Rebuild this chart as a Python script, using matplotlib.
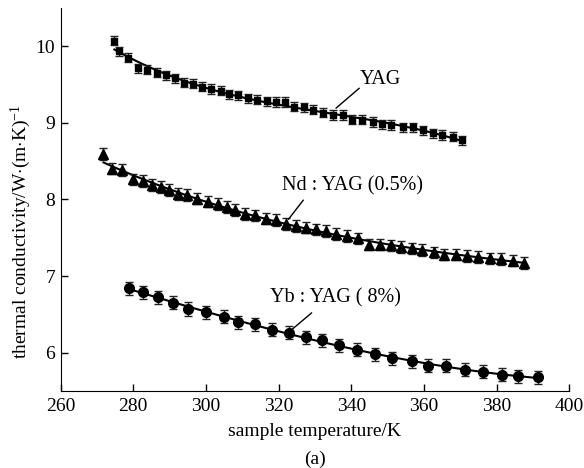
import numpy as np
import matplotlib
matplotlib.use("Agg")
import matplotlib.pyplot as plt

plt.rcParams['font.family'] = ['Liberation Serif', 'DejaVu Serif']
plt.rcParams['mathtext.fontset'] = 'custom'
plt.rcParams['mathtext.rm'] = 'Liberation Serif'
plt.rcParams['mathtext.it'] = 'Liberation Serif:italic'

# sample data
yag_t = [274.8, 276.2, 278.6, 281.4, 283.9, 286.4, 288.9, 291.5, 294.0, 296.4,
         298.8, 301.4, 304.1, 306.3, 308.9, 311.5, 314.0, 316.7, 319.2, 321.8,
         324.2, 327.0, 329.5, 332.3, 335.0, 337.6, 340.1, 342.9, 345.9, 348.4,
         350.9, 354.3, 356.9, 359.8, 362.6, 365.1, 367.9, 370.6]
yag_k = [10.07, 9.93, 9.85, 9.71, 9.69, 9.65, 9.62, 9.58, 9.52, 9.51,
         9.47, 9.44, 9.42, 9.37, 9.36, 9.32, 9.30, 9.28, 9.27, 9.27,
         9.21, 9.20, 9.17, 9.13, 9.10, 9.10, 9.04, 9.04, 9.01, 8.98,
         8.97, 8.94, 8.94, 8.90, 8.86, 8.84, 8.82, 8.77]

nd_t = [271.8, 274.1, 276.8, 280.0, 282.6, 285.1, 287.6, 289.8, 292.2, 294.7,
        297.5, 300.6, 303.2, 305.7, 308.0, 310.7, 313.4, 316.4, 319.2, 322.0,
        324.8, 327.5, 330.3, 333.0, 335.9, 338.8, 341.9, 345.0, 347.9, 350.9,
        353.8, 356.6, 359.6, 362.8, 365.6, 368.8, 371.9, 374.9, 378.2, 381.3,
        384.4, 387.6]
nd_k = [8.59, 8.40, 8.38, 8.26, 8.24, 8.19, 8.16, 8.12, 8.07, 8.06,
        8.01, 7.97, 7.94, 7.90, 7.86, 7.81, 7.79, 7.75, 7.73, 7.68,
        7.65, 7.63, 7.61, 7.59, 7.55, 7.52, 7.49, 7.41, 7.41, 7.40,
        7.38, 7.36, 7.34, 7.31, 7.28, 7.28, 7.26, 7.25, 7.23, 7.22,
        7.20, 7.17]

yb_t = [278.7, 282.8, 286.7, 290.8, 295.1, 300.0, 304.9, 308.9, 313.4, 318.1,
        322.9, 327.5, 332.0, 336.5, 341.5, 346.4, 351.1, 356.8, 361.2, 366.2,
        371.3, 376.3, 381.4, 385.9, 391.5]
yb_k = [6.84, 6.79, 6.72, 6.65, 6.57, 6.53, 6.47, 6.40, 6.37, 6.30,
        6.26, 6.20, 6.16, 6.10, 6.04, 5.98, 5.93, 5.89, 5.83, 5.83,
        5.78, 5.75, 5.71, 5.69, 5.68]

yag_err = 0.06
nd_err = 0.075
yb_err = 0.085

# labels: (text, text pos, leader line start, leader line end)
labels = [
    ('YAG', (342.4, 9.57), (342.2, 9.45), (335.8, 9.19)),
    ('Nd : YAG (0.5%)', (320.8, 8.17), (326.8, 7.99), (322.7, 7.74)),
    ('Yb : YAG ( 8%)', (317.6, 6.71), (329.1, 6.52), (323.6, 6.30)),
]

fig = plt.figure(figsize=(5.84, 4.68), dpi=100)
ax = fig.add_axes([0.1038, 0.1645, 0.871, 0.819])

series = [
    (yag_t, yag_k, yag_err, 's', 5),
    (nd_t, nd_k, nd_err, '^', 6.5),
    (yb_t, yb_k, yb_err, 'o', 7),
]
for t, k, err, mk, ms in series:
    t = np.array(t)
    k = np.array(k)
    # smooth fitted curve through the points
    coef = np.polyfit(t, k, 3)
    tt = np.linspace(t.min(), t.max(), 200)
    ax.plot(tt, np.polyval(coef, tt), color='black', lw=1.5, zorder=2)
    ax.errorbar(t, k, yerr=err, fmt=mk, color='black', ms=ms,
                ecolor='#222222', elinewidth=1, capsize=3, capthick=1, zorder=3)

fs = 14
for txt, pos, p0, p1 in labels:
    ax.text(pos[0], pos[1], txt, fontsize=14.5, ha='left', va='center')
    ax.annotate('', xy=p1, xytext=p0,
                arrowprops=dict(arrowstyle='-', color='black', lw=1, shrinkA=0, shrinkB=0))

ax.set_xlim(260, 400)
ax.set_ylim(5.5, 10.5)
ax.set_xticks([260, 280, 300, 320, 340, 360, 380, 400])
ax.set_yticks([6, 7, 8, 9, 10])
ax.spines['top'].set_visible(False)
ax.spines['right'].set_visible(False)
ax.tick_params(direction='in', length=5, width=1, labelsize=fs)
ax.tick_params(axis='y', pad=4)
ax.tick_params(axis='x', pad=5)
ax.set_xlabel('sample temperature/K', fontsize=fs, va='center')
ax.xaxis.set_label_coords(0.5, -0.105)
ax.set_ylabel(r'thermal conductivity/W$\cdot$(m$\cdot$K)$^{-1}$', fontsize=fs, va='center')
ax.yaxis.set_label_coords(-0.078, 0.415)
fig.text(0.539, 0.018, '(a)', fontsize=fs, ha='center', va='center')

fig.savefig('out.png', dpi=100)
